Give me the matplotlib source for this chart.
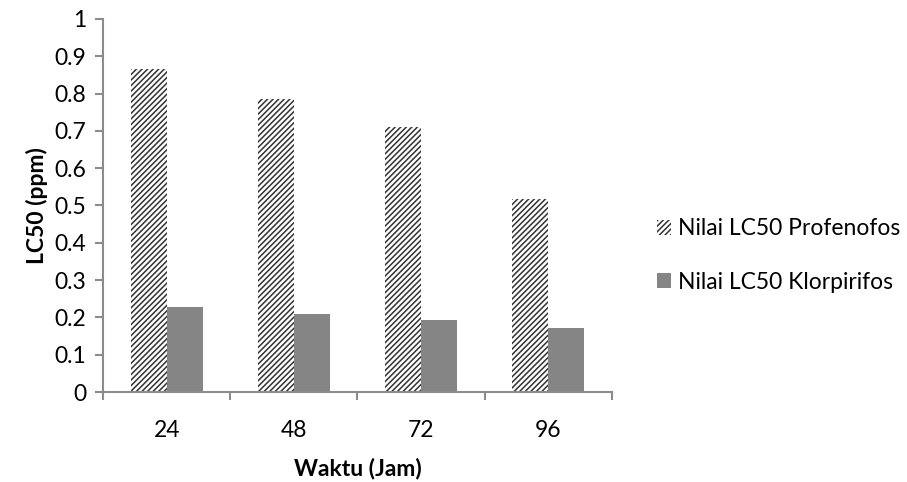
import matplotlib
matplotlib.use("Agg")
import matplotlib.pyplot as plt
import numpy as np

plt.rcParams.update({
    "font.family": ["Lato", "DejaVu Sans"],
    "font.size": 16.5,
    "hatch.linewidth": 1.1,
})

waktu = ["24", "48", "72", "96"]
profenofos = [0.866, 0.786, 0.710, 0.517]
klorpirifos = [0.228, 0.209, 0.193, 0.172]
label_a = "Nilai LC50 Profenofos"
label_b = "Nilai LC50 Klorpirifos"

x = np.arange(len(waktu))
w = 0.283
axis_grey = "#8c8c8c"

fig = plt.figure(figsize=(9.07, 4.82), dpi=100)
ax = fig.add_axes([0.1136, 0.1867, 0.561, 0.774])

ax.bar(x - w / 2, profenofos, w, color="white", edgecolor="#333333",
       hatch="//////", linewidth=0, label=label_a)
ax.bar(x + w / 2, klorpirifos, w, color="#858585", linewidth=0, label=label_b)

ax.set_xlim(-0.5, len(waktu) - 0.5)
ax.set_ylim(0, 1)
ax.set_yticks(np.arange(0, 1.01, 0.1))
ax.set_yticklabels(["0", "0.1", "0.2", "0.3", "0.4", "0.5", "0.6", "0.7",
                    "0.8", "0.9", "1"])
ax.set_xticks(x)
ax.set_xticklabels(waktu)
ax.set_xticks(np.arange(-0.5, len(waktu), 1.0), minor=True)
ax.tick_params(axis="x", which="major", length=0, pad=20)
ax.tick_params(axis="x", which="minor", length=6, width=1.5, color=axis_grey,
               direction="out")
ax.tick_params(axis="y", length=6, width=1.5, color=axis_grey, pad=6)

for side in ("top", "right"):
    ax.spines[side].set_visible(False)
for side in ("left", "bottom"):
    ax.spines[side].set_color(axis_grey)
    ax.spines[side].set_linewidth(1.5)

ax.set_xlabel("Waktu (Jam)", fontweight="bold", labelpad=12)
ax.set_ylabel("LC50 (ppm)", fontweight="bold", labelpad=5)

fig.legend(loc="center left", bbox_to_anchor=(0.702, 0.47), frameon=False,
           handlelength=0.6, handleheight=0.6, handletextpad=0.3,
           labelspacing=1.4, fontsize=16.5)

plt.savefig("out.png", dpi=100)
